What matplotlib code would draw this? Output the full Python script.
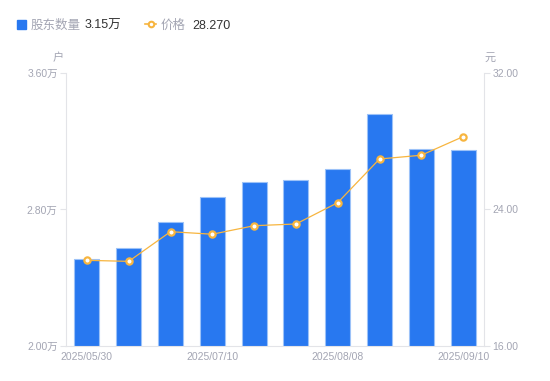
import matplotlib
matplotlib.use("Agg")
import numpy as np
import matplotlib.pyplot as plt

plt.rcParams['font.family'] = ['Liberation Sans', 'Noto Sans CJK SC', 'DejaVu Sans']

# data
dates = ["2025/05/30", "2025/06/20", "2025/06/30", "2025/07/10", "2025/07/20",
         "2025/07/31", "2025/08/08", "2025/08/20", "2025/08/31", "2025/09/10"]
holders = [2.51, 2.574, 2.725, 2.872, 2.963, 2.971, 3.037, 3.36, 3.153, 3.15]  # 万户
price = [21.02, 20.96, 22.70, 22.55, 23.05, 23.15, 24.40, 26.96, 27.18, 28.27]
shown_ticks = [0, 3, 6, 9]

BAR = "#2878f0"
LINE = "#f7b53f"
GREY = "#a3a5b3"
AXIS = "#e3e4e8"

fig = plt.figure(figsize=(5.5, 3.81), dpi=100)
ax = fig.add_axes([0.12, 0.0919, 0.76, 0.7165])
ax2 = ax.twinx()

x = np.arange(len(dates))
ax.bar(x, holders, width=0.6, color=BAR, edgecolor="#9cc2f8", linewidth=0.8, zorder=2)
ax.set_ylim(2.0, 3.6)
ax.set_xlim(-0.5, len(dates) - 0.5)
ax.set_yticks([2.0, 2.8, 3.6])
ax.set_yticklabels(["2.00万", "2.80万", "3.60万"])
ax.set_xticks([x[i] for i in shown_ticks])
ax.set_xticklabels([dates[i] for i in shown_ticks])

ax2.plot(x, price, color=LINE, linewidth=0.9, marker="o", markersize=4.5,
         markerfacecolor="white", markeredgecolor=LINE, markeredgewidth=1.6, zorder=3)
ax2.set_ylim(16, 32)
ax2.set_yticks([16, 24, 32])
ax2.set_yticklabels(["16.00", "24.00", "32.00"])

for a in (ax, ax2):
    for s in a.spines.values():
        s.set_visible(False)
ax.spines["left"].set_visible(True)
ax.spines["left"].set_color(AXIS)
ax.spines["bottom"].set_visible(True)
ax.spines["bottom"].set_color(AXIS)
ax2.spines["right"].set_visible(True)
ax2.spines["right"].set_color(AXIS)

ax.tick_params(axis="y", colors=AXIS, labelcolor=GREY, labelsize=7.5, length=4, width=0.8, pad=2)
ax.tick_params(axis="x", length=0, labelcolor=GREY, labelsize=7.5, pad=4)
ax2.tick_params(axis="y", colors=AXIS, labelcolor=GREY, labelsize=7.5, length=4, width=0.8, pad=2)

# unit labels
fig.text(58 / 550, 1 - 58 / 381, "户", color=GREY, fontsize=8, ha="center", va="center")
fig.text(490 / 550, 1 - 58 / 381, "元", color=GREY, fontsize=8, ha="center", va="center")

# legend row
ly = 1 - 26 / 381
fig.patches.append(plt.Rectangle((17 / 550, 1 - 29 / 381), 9 / 550, 9 / 381,
                                 transform=fig.transFigure, color=BAR, figure=fig))
fig.text(31 / 550, ly, "股东数量", color=GREY, fontsize=9, va="center")
fig.text(85 / 550, ly, "%.2f万" % holders[-1], color="#333333", fontsize=9, va="center")
fig.lines.append(plt.Line2D([145 / 550, 156 / 550], [1 - 24 / 381, 1 - 24 / 381],
                            transform=fig.transFigure, color=LINE, linewidth=1.2))
fig.lines.append(plt.Line2D([150.5 / 550], [1 - 24 / 381], transform=fig.transFigure,
                            marker="o", markersize=4, markerfacecolor="white",
                            markeredgecolor=LINE, markeredgewidth=1.5, linestyle="none"))
fig.text(161 / 550, ly, "价格", color=GREY, fontsize=9, va="center")
fig.text(192 / 550, ly, "%.3f" % price[-1], color="#333333", fontsize=9, va="center")

fig.savefig("out.png", dpi=100)
